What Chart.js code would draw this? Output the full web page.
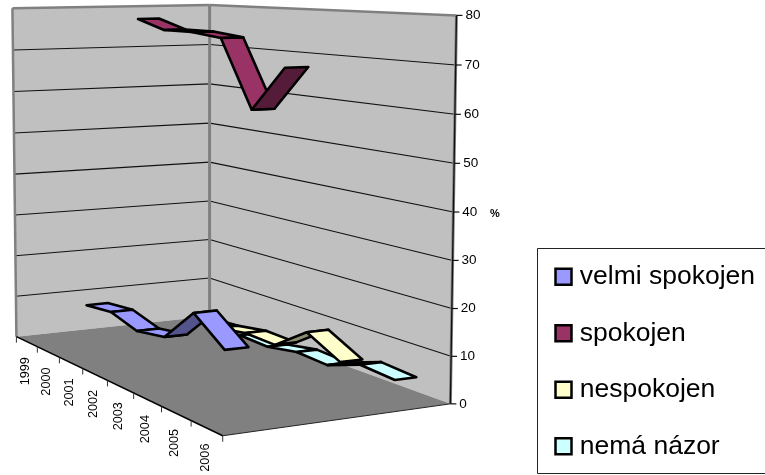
<!DOCTYPE html>
<html><head><meta charset="utf-8">
<style>html,body{margin:0;padding:0;background:#fff}canvas{display:block}</style>
<script src="https://cdn.jsdelivr.net/npm/chart.js@4"></script></head>
<body><canvas id="c" width="765" height="475"></canvas>
<script>
// Survey results by year, in percent
const years = ['1999','2000','2001','2002','2003','2004','2005','2006'];
const velmiSpokojen = [null,null,13,13.7,11.8,12.9,20.3,15.2];
const spokojen      = [null,null,78,75.9,75.9,75.1,61,70.2];
const nespokojen    = [null,null,7,7.5,8.7,8.5,13.7,9.9];
const nemaNazor     = [null,null,2,1.7,3,2.6,5.3,4.7];
const valueTicks = { min: 0, max: 80, step: 10 };

// Screen positions of the corners of the 3D box: [category, depth, height, px, py]
const boxCorners = [
  [0,0,0,16.5,337],[1,0,0,222.5,435.5],[1,1,0,450.5,404],[0,1,0,209.5,316],
  [0,0,1,12.5,8],[1,1,1,456.5,15.5],[0,1,1,209.5,5]
];

// Least-squares perspective camera through the box corners
function solveCamera(points) {
  const A = [], b = [];
  for (const [X,Y,Z,u,v] of points) {
    A.push([X,Y,Z,1,0,0,0,0,-u*X,-u*Y,-u*Z]); b.push(u);
    A.push([0,0,0,0,X,Y,Z,1,-v*X,-v*Y,-v*Z]); b.push(v);
  }
  const n = 11, M = [];
  for (let i = 0; i < n; i++) {
    const row = [];
    for (let j = 0; j < n; j++) row.push(A.reduce((s,r) => s + r[i]*r[j], 0));
    row.push(A.reduce((s,r,k) => s + r[i]*b[k], 0));
    M.push(row);
  }
  for (let i = 0; i < n; i++) {
    let p = i;
    for (let r = i+1; r < n; r++) if (Math.abs(M[r][i]) > Math.abs(M[p][i])) p = r;
    [M[i],M[p]] = [M[p],M[i]];
    for (let r = 0; r < n; r++) if (r !== i) {
      const f = M[r][i]/M[i][i];
      for (let c = i; c <= n; c++) M[r][c] -= f*M[i][c];
    }
  }
  return M.map((r,i) => r[n]/r[i]);
}
const cam = solveCamera(boxCorners);
const project = (t,d,z) => {
  const w = cam[8]*t + cam[9]*d + cam[10]*z + 1;
  return [(cam[0]*t + cam[1]*d + cam[2]*z + cam[3])/w, (cam[4]*t + cam[5]*d + cam[6]*z + cam[7])/w];
};

function polygon(ctx, pts, fill, stroke, width) {
  ctx.beginPath();
  pts.forEach((p,i) => i ? ctx.lineTo(p[0],p[1]) : ctx.moveTo(p[0],p[1]));
  ctx.closePath();
  if (fill) { ctx.fillStyle = fill; ctx.fill(); }
  if (stroke) { ctx.strokeStyle = stroke; ctx.lineWidth = width; ctx.stroke(); }
}
function segment(ctx, a, b, color, width) {
  ctx.beginPath(); ctx.moveTo(a[0],a[1]); ctx.lineTo(b[0],b[1]);
  ctx.strokeStyle = color; ctx.lineWidth = width; ctx.stroke();
}
function shade(hex, k) {
  const n = parseInt(hex.slice(1),16);
  return `rgb(${(n>>16&255)*k|0},${(n>>8&255)*k|0},${(n&255)*k|0})`;
}

const box3d = {
  id: 'box3d',
  afterLayout(chart) {
    // the legend sits in the lower right corner
    const l = chart.legend;
    l.left = 530.5; l.right = 765; l.top = 233.5; l.bottom = 700;
  },
  beforeDatasetsDraw(chart) {
    const ctx = chart.ctx, xs = chart.scales.x, ys = chart.scales.y;
    const catAt = i => xs.getDecimalForPixel(xs.getPixelForValue(i));
    const heightAt = v => ys.getDecimalForPixel(ys.getPixelForValue(v));
    ctx.save();
    ctx.lineJoin = 'round';

    // walls
    polygon(ctx, [project(0,0,0),project(0,0,1),project(0,1,1),project(1,1,1),project(1,1,0),project(0,1,0)], '#C0C0C0');
    // floor
    polygon(ctx, [project(0,0,0),project(1,0,0),project(1,1,0),project(0,1,0)], '#808080');

    // gridlines on both walls
    ys.ticks.forEach(tk => {
      const z = heightAt(tk.value);
      if (z > 0 && z < 1) {
        segment(ctx, project(0,0,z), project(0,1,z), '#111', 1.1);
        segment(ctx, project(0,1,z), project(1,1,z), '#111', 1.1);
      }
    });

    // wall frame
    segment(ctx, project(0,0,0), project(0,0,1), '#808080', 2.5);
    segment(ctx, project(0,0,1), project(0,1,1), '#808080', 2.5);
    segment(ctx, project(0,1,1), project(1,1,1), '#808080', 2.5);
    segment(ctx, project(0,1,0), project(0,1,1), '#808080', 3);
    segment(ctx, project(1,1,0), project(1,1,1), '#808080', 3);

    // ribbons, far series first and near category last; a rising step shows its darker underside
    for (let s = chart.data.datasets.length - 1; s >= 0; s--) {
      const ds = chart.data.datasets[s];
      const d0 = (s + 0.3)/4, d1 = (s + 0.7)/4;
      for (let i = 0; i < ds.data.length - 1; i++) {
        if (ds.data[i] == null || ds.data[i+1] == null) continue;
        const t0 = catAt(i), t1 = catAt(i+1);
        const z0 = heightAt(ds.data[i]), z1 = heightAt(ds.data[i+1]);
        const q = [project(t0,d0,z0), project(t1,d0,z1), project(t1,d1,z1), project(t0,d1,z0)];
        const area = q.reduce((a,p,k) => { const n = q[(k+1)%4]; return a + p[0]*n[1] - n[0]*p[1]; }, 0);
        polygon(ctx, q, area > 0 ? shade(ds.backgroundColor, 0.55) : ds.backgroundColor, '#000', 2.6);
      }
    }

    // value axis
    const axisFont = '13.5px "Liberation Sans", Arial, sans-serif';
    segment(ctx, project(1,1,0), project(1,1,1), '#111', 1.3);
    ctx.fillStyle = '#000'; ctx.font = axisFont; ctx.textAlign = 'left'; ctx.textBaseline = 'middle';
    ys.ticks.forEach(tk => {
      const p = project(1,1,heightAt(tk.value));
      segment(ctx, p, [p[0]+6,p[1]], '#111', 1.2);
      ctx.fillStyle = '#000';
      ctx.fillText(tk.label, p[0]+9, p[1]);
    });
    ctx.font = 'bold 11px "Liberation Sans", Arial, sans-serif';
    ctx.fillText('%', 490, 214);

    // category axis and floor edge
    segment(ctx, project(1,0,0), project(1,1,0), '#222', 1);
    segment(ctx, project(0,0,0), project(1,0,0), '#000', 1.5);
    const edge = i => project(i/years.length,0,0);
    for (let i = 0; i <= years.length; i++) {
      const p = edge(i);
      segment(ctx, p, [p[0],p[1]+6], '#333', 1);
    }
    ctx.font = '12.7px "Liberation Sans", Arial, sans-serif';
    ctx.textAlign = 'right'; ctx.textBaseline = 'middle'; ctx.fillStyle = '#000';
    xs.ticks.forEach((tk,i) => {
      const p = project(catAt(i),0,0);
      ctx.save();
      ctx.translate(p[0]-1.5, p[1]+15.5);
      ctx.rotate(-Math.PI/2);
      ctx.fillText(tk.label, 0, 0);
      ctx.restore();
    });

    // legend frame
    ctx.strokeStyle = '#222'; ctx.lineWidth = 1;
    ctx.strokeRect(537.5, 248.5, 240, 225);
    ctx.restore();
  }
};

new Chart(document.getElementById('c'), {
  type: 'line',
  data: {
    labels: years,
    datasets: [
      { label: 'velmi spokojen', data: velmiSpokojen, backgroundColor: '#9999FF' },
      { label: 'spokojen',       data: spokojen,      backgroundColor: '#993366' },
      { label: 'nespokojen',     data: nespokojen,    backgroundColor: '#FFFFCC' },
      { label: 'nemá názor',     data: nemaNazor,     backgroundColor: '#CCFFFF' }
    ].map(d => ({ ...d, borderColor: '#000', borderWidth: 2.5, showLine: false, pointRadius: 0, pointHoverRadius: 0 }))
  },
  options: {
    responsive: false, animation: false,
    events: [],
    layout: { padding: 0 },
    scales: {
      x: { type: 'category', offset: true, display: false },
      y: { type: 'linear', display: false, min: valueTicks.min, max: valueTicks.max, ticks: { stepSize: valueTicks.step } }
    },
    plugins: {
      tooltip: { enabled: false },
      title: { display: false },
      legend: {
        position: 'right', align: 'start',
        labels: {
          color: '#000', usePointStyle: true, pointStyle: 'rect',
          boxWidth: 6, boxHeight: 16, padding: 30,
          font: { family: '"Liberation Sans", Arial, sans-serif', size: 26.5 }
        }
      }
    }
  },
  plugins: [box3d]
});
</script></body></html>
